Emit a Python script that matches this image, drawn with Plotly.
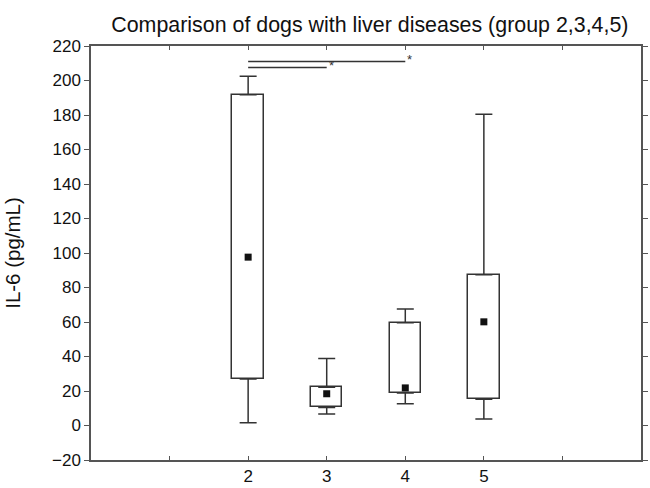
import plotly.graph_objects as go

groups = [2, 3, 4, 5]
xpos = [2, 3, 4, 5]
q1 = [26.9, 10.5, 18.8, 15.2]
q3 = [191.7, 22.2, 59.6, 87.4]
median = [97.6, 18.4, 21.8, 60.1]
lower = [1.6, 6.7, 12.6, 3.7]
upper = [202.4, 38.8, 67.6, 180.4]

sig_from = [2, 2]
sig_to = [4, 3]
sig_y = [211, 207.5]
sig_label = ["*", "*"]

tick_vals = [1, 2, 3, 4, 5, 6]
tick_text = ["", "2", "3", "4", "5", ""]

line_col = "#333333"
axis_col = "#555555"
font = "Liberation Sans, Arial, sans-serif"

fig = go.Figure()

fig.add_trace(go.Bar(
    x=xpos, y=[b - a for a, b in zip(q1, q3)], base=q1, width=0.4,
    marker=dict(color="white", line=dict(color=line_col, width=1.5)),
    showlegend=False, hoverinfo="skip"))

fig.add_trace(go.Scatter(
    x=xpos, y=q3, mode="markers", marker=dict(size=1, opacity=0),
    error_y=dict(type="data", symmetric=False,
                 array=[u - t for u, t in zip(upper, q3)],
                 arrayminus=[0] * 4, color=line_col, thickness=1.5, width=8.5),
    showlegend=False, hoverinfo="skip"))

fig.add_trace(go.Scatter(
    x=xpos, y=q1, mode="markers", marker=dict(size=1, opacity=0),
    error_y=dict(type="data", symmetric=False,
                 array=[0] * 4,
                 arrayminus=[a - l for a, l in zip(q1, lower)],
                 color=line_col, thickness=1.5, width=8.5),
    showlegend=False, hoverinfo="skip"))

fig.add_trace(go.Scatter(
    x=xpos, y=median, mode="markers",
    marker=dict(symbol="square", size=7, color="#111111"),
    showlegend=False))

for a, b, y, lab in zip(sig_from, sig_to, sig_y, sig_label):
    fig.add_shape(type="line", x0=a, x1=b, y0=y, y1=y, xref="x", yref="y",
                  line=dict(color=line_col, width=1.5))
    fig.add_annotation(x=b, y=y, text=lab, showarrow=False, xanchor="left",
                       yanchor="bottom", xshift=0, yshift=-7,
                       font=dict(size=13, color=line_col, family=font))

fig.update_layout(
    width=650, height=488,
    margin=dict(l=91, r=2, t=46, b=18),
    paper_bgcolor="white", plot_bgcolor="white",
    font=dict(family=font, size=17, color="#111111"),
    title=dict(text="Comparison of dogs with liver diseases (group 2,3,4,5)",
               x=0.507, xref="paper", xanchor="center",
               y=1 - 25 / 488, yref="container", yanchor="middle",
               font=dict(size=21.4, family=font, color="#111111")),
    bargap=0,
)
fig.update_xaxes(range=[0, 7], tickvals=tick_vals, ticktext=tick_text,
                 ticks="inside", ticklen=4, tickcolor=axis_col,
                 showline=True, linecolor=axis_col, linewidth=1.5,
                 mirror="ticks", showgrid=False, zeroline=False,
                 tickfont=dict(size=17))
fig.update_yaxes(range=[-20, 220], dtick=20, tick0=-20,
                 ticks="outside", ticklen=5, tickcolor=axis_col,
                 showline=True, linecolor=axis_col, linewidth=1.5,
                 mirror="ticks", showgrid=False, zeroline=False,
                 tickfont=dict(size=17),
                 title=dict(text="IL-6 (pg/mL)", font=dict(size=20.5), standoff=26))

fig.write_html("out.html")
